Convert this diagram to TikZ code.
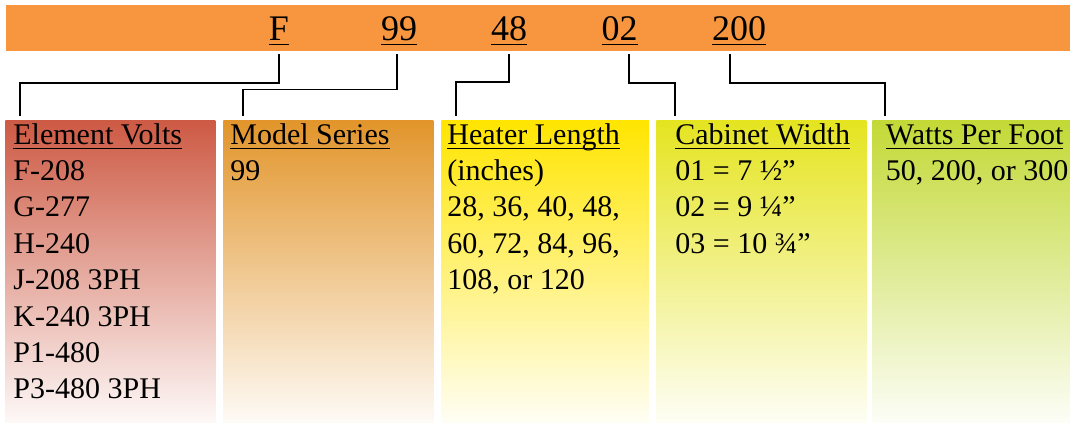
\documentclass[tikz,border=0pt]{standalone}
\usepackage{fontspec}
\setmainfont{Liberation Serif}
\usepackage{xcolor}
\definecolor{barorange}{RGB}{247,150,62}
\definecolor{voltred}{RGB}{205,90,68}
\definecolor{seriesorange}{RGB}{226,149,43}
\definecolor{lengthyellow}{RGB}{255,229,0}
\definecolor{widthlime}{RGB}{229,228,32}
\definecolor{wattsgreen}{RGB}{195,217,54}
\newcommand{\undl}[1]{\setbox0=\hbox{#1}\rlap{\rule[-2.3pt]{\wd0}{0.55pt}}\box0}

\begin{document}
\begin{tikzpicture}[x=0.5pt,y=-0.5pt,
  colbox/.style={anchor=north west,inner sep=0,minimum height=151pt,draw=none},
  entry/.style={anchor=base west,inner sep=0,font=\fontsize{15}{18}\selectfont},
  code/.style={anchor=base,inner sep=0,font=\fontsize{18}{21}\selectfont},
  link/.style={line width=0.9pt,black}]
\useasboundingbox (0,0) rectangle (1070,423);
\begin{scope}
\clip (0,0) rectangle (1070,423);
% code bar
\fill[barorange] (6,5) rectangle (1070,50.5);
\node[code] (cF) at (279,40) {\undl{F}};
\node[code] (c99) at (399,40) {\undl{99}};
\node[code] (c48) at (509,40) {\undl{48}};
\node[code] (c02) at (619.5,40) {\undl{02}};
\node[code] (c200) at (739,40) {\undl{200}};
% columns
\node[colbox,minimum width=105pt,top color=voltred,bottom color=voltred!4] (volts) at (5,120.5) {};
\node[colbox,minimum width=105pt,top color=seriesorange,bottom color=seriesorange!4] (series) at (223,120.5) {};
\node[colbox,minimum width=103.7pt,top color=lengthyellow,bottom color=lengthyellow!4] (length) at (441,120.5) {};
\node[colbox,minimum width=105pt,top color=widthlime,bottom color=widthlime!4] (width) at (656,120.5) {};
\node[colbox,minimum width=110pt,top color=wattsgreen,bottom color=wattsgreen!4] (watts) at (872,120.5) {};
% column texts
\node[entry] (hvolts) at (13,144) {\undl{Element Volts}};
\foreach \t [count=\i] in {F-208,G-277,H-240,J-208 3PH,K-240 3PH,P1-480,P3-480 3PH}
  \node[entry] (volts\i) at (13,{144+36.4*\i}) {\t};
\node[entry] (hseries) at (230,144) {\undl{Model Series}};
\node[entry] (series1) at (230,180.4) {99};
\node[entry] (hlength) at (447,144) {\undl{Heater Length}};
\foreach \t [count=\i] in {(inches),{28, 36, 40, 48,},{60, 72, 84, 96,},{108, or 120}}
  \node[entry] (length\i) at (447,{144+36.4*\i}) {\t};
\node[entry] (hwidth) at (675,144) {\undl{Cabinet Width}};
\foreach \t [count=\i] in {01 = 7 ½”,02 = 9 ¼”,03 = 10 ¾”}
  \node[entry] (width\i) at (675,{144+36.4*\i}) {\t};
\node[entry] (hwatts) at (885.5,144) {\undl{Watts Per Foot}};
\node[entry] (watts1) at (885.5,180.4) {50, 200, or 300};
% connectors
\draw[link] ([yshift=-7pt]cF.base) -- ++(0,29) -| ([xshift=7.3pt,yshift=2.25pt]volts.north west);
\draw[link] ([xshift=-1pt,yshift=-7pt]c99.base) -- ++(0,35.5) -| ([xshift=10pt,yshift=2.25pt]series.north west);
\draw[link] ([yshift=-7pt]c48.base) -- ++(0,28) -| ([xshift=7.5pt,yshift=2.25pt]length.north west);
\draw[link] ([xshift=4.75pt,yshift=-7pt]c02.base) -- ++(0,28.6) -| ([xshift=9.3pt,yshift=2.25pt]width.north west);
\draw[link] ([xshift=-4.5pt,yshift=-7pt]c200.base) -- ++(0,28.6) -| ([xshift=6.35pt,yshift=2.25pt]watts.north west);
\end{scope}
\end{tikzpicture}
\end{document}
